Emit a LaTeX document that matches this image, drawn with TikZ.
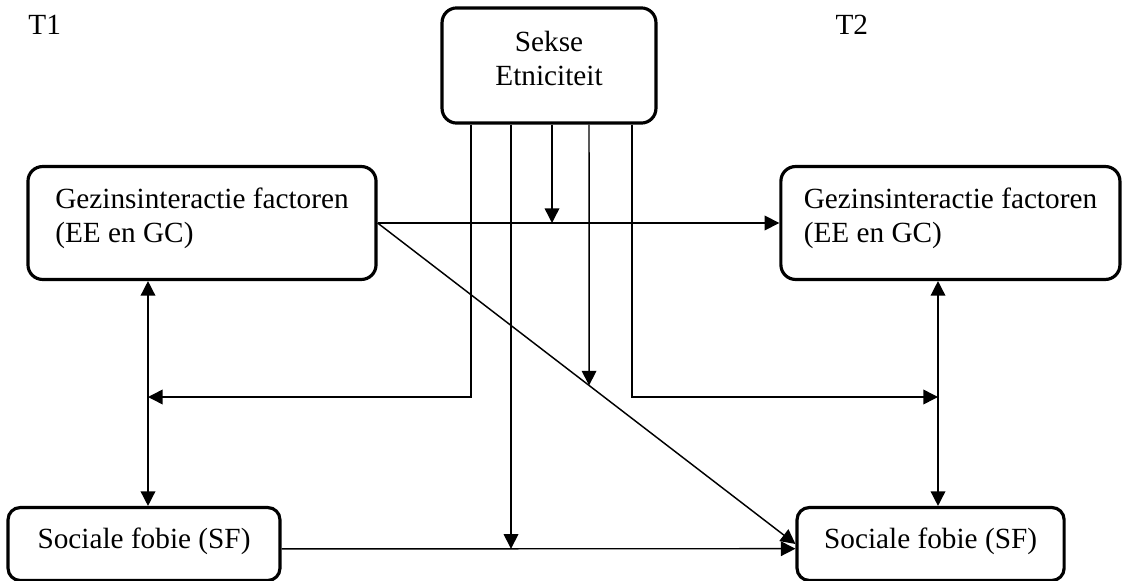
\documentclass[tikz,border=0pt]{standalone}
\usepackage{fontspec}
\setmainfont{Liberation Serif}
\usetikzlibrary{positioning}
\usetikzlibrary{arrows.meta}
\tikzset{%
	>={Triangle[width=6pt,length=6pt]},
	% Specifications for style of nodes:
	base/.style = {rectangle, rounded corners=6pt, draw=black, line width=1.3pt, align=left, font=\fontsize{12}{13.9}\selectfont},
	moderator/.style = {base, align=center, text depth=6pt, minimum width=87.7pt, minimum height=47.2pt},
	factor/.style = {base, text depth=6.5pt, minimum height=46.3pt},
	outcome/.style = {base, rounded corners=5pt, text depth=5pt, minimum height=29.9pt},
	wave/.style = {inner sep=0pt, anchor=base west, font=\fontsize{12}{13.9}\selectfont},
}

\begin{document}
\begin{tikzpicture}[x=0.41pt,y=-0.41pt]
		\useasboundingbox (0,0) rectangle (1124,581);
		\node (T1) [wave] at (28,35) {T1};
		\node (T2) [wave] at (835,35) {T2};
		\node (Sekse) [moderator] at (549,65.5) {Sekse\\Etniciteit};
		
		\node (GI1) [factor, minimum width=142.7pt] at (202,223) {Gezinsinteractie factoren\\(EE en GC)};
		\node (GI2) [factor, minimum width=139pt, right=164.7pt of GI1] {Gezinsinteractie factoren\\(EE en GC)};
		
		\node (SF1) [outcome, minimum width=111.5pt] at (144,544) {Sociale fobie (SF)};
		\node (SF2) [outcome, minimum width=109.5pt, right=210.7pt of SF1] {Sociale fobie (SF)};
		
		% taps under Sekse and the two side lines
		\coordinate (L) at (148,397);
		\coordinate (R) at (938,397);
		\coordinate (m1) at (471,0);
		\coordinate (m2) at (511,0);
		\coordinate (m3) at (552,0);
		\coordinate (m4) at (589,0);
		\coordinate (m4b) at (589,581);
		\coordinate (m5) at (632,0);
		
		\draw [semithick,->] (GI1) -- (GI2);
		\draw [semithick,->] (GI1.east) -- (SF2.west);
		\draw [semithick,->] (SF1.358) -- (SF2.182);
		
		\draw [semithick,<->] (GI1.south -| L) -- (SF1.north -| L);
		\draw [semithick,<->] (GI2.south -| R) -- (SF2.north -| R);
		
		\draw [semithick,->] (Sekse.south -| m1) |- (L);
		\draw [semithick,->] (Sekse.south -| m2) -- (m2 |- SF1.358);
		\draw [semithick,->] (Sekse.south -| m3) -- (m3 |- GI1);
		\draw [semithick,->] (Sekse.south -| m4) -- (intersection of GI1.east--SF2.west and m4--m4b);
		\draw [semithick,->] (Sekse.south -| m5) |- (R);
		
     \end{tikzpicture}
\end{document}
